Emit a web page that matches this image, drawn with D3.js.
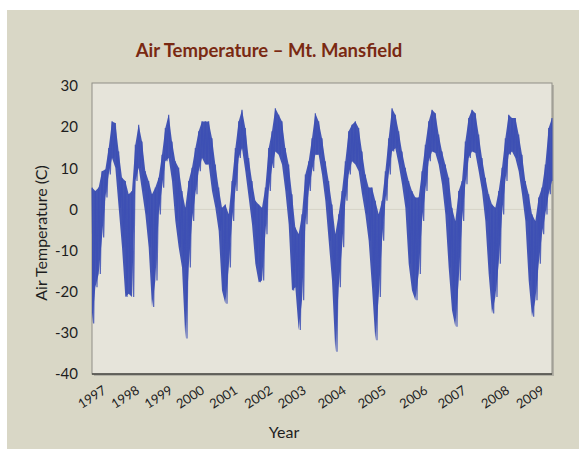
<!DOCTYPE html>
<html>
<head>
<meta charset="utf-8">
<script src="https://cdn.jsdelivr.net/npm/d3@7"></script>
<style>
  body { margin: 0; background: #fff; }
  svg { display: block; }
</style>
</head>
<body>
<svg width="579" height="449"></svg>
<script>
// envelope of the daily record (deg C), one sample every ~3 px
var tempHigh = [5.3, 4.5, 5.3, 9.3, 9.7, 14.9, 21.4, 21.0, 14.1, 7.7,
  6.9, 3.7, 4.5, 15.7, 20.6, 16.5, 9.3, 6.9, 3.7, 5.3,
  7.7, 13.3, 19.8, 23.0, 16.5, 11.7, 10.1, 4.5, 0.4, 6.9,
  10.1, 14.9, 19.0, 21.4, 21.4, 21.4, 17.3, 10.9, 5.3, 0.4,
  1.2, -1.2, 6.9, 14.9, 21.4, 24.2, 19.8, 12.5, 6.9, 2.1,
  1.2, 0.4, 5.3, 14.9, 19.0, 24.6, 23.0, 21.4, 14.9, 10.9,
  3.7, -4.4, -6.0, -1.2, 8.5, 11.7, 17.3, 23.4, 21.4,
  17.3, 11.7, 6.9, 1.2, -6.0, -1.2, 4.5, 11.7, 19.0, 20.6,
  21.4, 19.8, 14.1, 8.5, 5.3, 5.3, 2.1, -1.2, 2.1, 9.3,
  17.3, 24.6, 23.0, 19.0, 14.1, 10.1, 6.9, 4.5, 2.9, 2.9,
  9.3, 15.7, 21.4, 24.2, 23.4, 18.2, 14.1, 10.9, 7.7, 0.4,
  -2.8, 4.5, 6.9, 16.5, 22.2, 24.2, 23.4, 18.2, 12.5, 7.7,
  3.7, 1.2, 0.4, 4.5, 10.1, 17.3, 23.0, 22.2, 22.2, 18.2,
  13.3, 6.9, 3.7, -1.2, -2.8, 2.9, 5.3, 10.9, 19.8, 22.2];
var tempLow = [-27.7, -18.9, -15.7, -6.8, 2.9, 8.5, 12.5, 10.1, 0.4, -9.2,
  -21.3, -20.5, -21.3, 6.9, 10.1, 4.5, -1.2, -9.2, -23.7, -17.3,
  -1.2, 5.3, 11.7, 12.5, 6.9, -2.8, -9.2, -14.1, -31.4, -14.1,
  -2.8, 3.7, 9.3, 12.5, 10.9, 10.9, 4.5, 0.4, -5.2, -19.7,
  -22.9, -14.1, -2.8, 4.5, 12.5, 14.9, 9.3, 2.9, -3.6, -13.2,
  -17.7, -17.3, -6.0, 4.5, 10.1, 14.1, 13.3, 10.9, 4.5, -3.6,
  -19.7, -18.9, -29.3, -22.1, -3.6, 4.5, 9.3, 13.3, 13.3,
  8.5, 2.1, -7.6, -17.3, -34.6, -18.9, -9.2, 2.1, 8.5, 11.7,
  10.9, 9.3, 3.7, -1.2, -7.6, -18.9, -31.8, -21.3, -7.6, 2.1,
  8.5, 14.1, 14.9, 10.9, 6.1, 0.4, -13.2, -19.7, -22.1, -15.7,
  -2.8, 4.5, 11.7, 14.1, 13.7, 10.9, 6.1, -1.2, -14.1, -24.5,
  -28.5, -17.3, -2.8, 6.1, 12.5, 14.1, 13.7, 9.3, 4.5, -2.8,
  -15.7, -25.3, -21.3, -13.2, -1.2, 6.9, 13.3, 14.1, 12.5, 9.3,
  3.7, -2.8, -17.3, -26.1, -22.1, -13.2, -6.0, -1.2, 3.7, 6.9];

var yearLabels = ["1997", "1998", "1999", "2000", "2001", "2002", "2003",
  "2004", "2005", "2006", "2007", "2008", "2009"];
// where each year label sits, in sample units
var yearAt = [3, 13, 23, 32.5, 42.5, 53, 63, 75, 87, 99.5, 111, 124, 134.5];
var yTicks = [-40, -30, -20, -10, 0, 10, 20, 30];

var svg = d3.select("svg");
// note: "top" is taken by window.top, so use plot* names
var plotLeft = 92, plotRight = 552, plotTop = 83, plotBottom = 374;

// beige panel
svg.append("rect")
  .attr("x", 7).attr("y", 10)
  .attr("width", 579 - 7).attr("height", 449 - 10)
  .attr("fill", "#d9d7c6");

var x = d3.scaleLinear().domain([0, tempHigh.length - 1]).range([plotLeft, plotRight]);
var y = d3.scaleLinear().domain([-40, 30]).range([plotBottom, 86]);

// plot frame with a little shadow
svg.append("rect")
  .attr("x", plotLeft + 2).attr("y", plotTop + 2)
  .attr("width", plotRight - plotLeft).attr("height", plotBottom - plotTop)
  .attr("fill", "#b3b1a6");
svg.append("rect")
  .attr("x", plotLeft).attr("y", plotTop)
  .attr("width", plotRight - plotLeft).attr("height", plotBottom - plotTop)
  .attr("fill", "#e6e4da")
  .attr("stroke", "#8f8e85")
  .attr("stroke-width", 1);
svg.append("line")
  .attr("x1", plotLeft).attr("x2", plotRight)
  .attr("y1", plotBottom).attr("y2", plotBottom)
  .attr("stroke", "#4a4a45").attr("stroke-width", 1.5);

// faint zero line
svg.append("line")
  .attr("x1", plotLeft + 1).attr("x2", plotRight - 1)
  .attr("y1", y(0)).attr("y2", y(0))
  .attr("stroke", "#d6d3c6").attr("stroke-width", 1);

var samples = d3.range(tempHigh.length);

var area = d3.area()
  .x(function(d) { return x(d); })
  .y0(function(d) { return y(tempLow[d]); })
  .y1(function(d) { return y(tempHigh[d]); });

svg.append("path")
  .datum(samples)
  .attr("d", area)
  .attr("fill", "#3a4db2")
  .attr("fill-opacity", 0.95);

// jagged trace between the high and low of each sample
var zig = [];
samples.forEach(function(k) {
  zig.push([k, tempHigh[k]]);
  zig.push([k + 0.5, tempLow[k]]);
});
var line = d3.line()
  .x(function(d) { return x(Math.min(d[0], tempHigh.length - 1)); })
  .y(function(d) { return y(d[1]); });

svg.append("path")
  .datum(zig)
  .attr("d", line)
  .attr("fill", "none")
  .attr("stroke", "#3c4fb4")
  .attr("stroke-width", 1.2)
  .attr("stroke-opacity", 0.85);

var font = "Lato, 'Open Sans', sans-serif";

// y tick labels
svg.append("g").selectAll("text")
  .data(yTicks)
  .enter().append("text")
  .attr("x", 78)
  .attr("y", function(d) { return y(d); })
  .attr("dy", "0.35em")
  .attr("text-anchor", "end")
  .attr("font-family", font)
  .attr("font-size", 15)
  .attr("fill", "#1e1e1e")
  .text(function(d) { return d; });

// x labels, slanted
svg.append("g").selectAll("text")
  .data(yearLabels)
  .enter().append("text")
  .attr("transform", function(d, i) {
    return "translate(" + x(yearAt[i]) + ",385) rotate(-33)";
  })
  .attr("text-anchor", "end")
  .attr("dy", "0.7em")
  .attr("font-family", font)
  .attr("font-size", 13)
  .attr("fill", "#1e1e1e")
  .text(function(d) { return d; });

// title and axis names
svg.append("text")
  .attr("x", 269).attr("y", 57)
  .attr("text-anchor", "middle")
  .attr("font-family", font)
  .attr("font-weight", "bold")
  .attr("font-size", 18.5)
  .attr("fill", "#7a2912")
  .text("Air Temperature – Mt. Mansfield");

svg.append("text")
  .attr("transform", "translate(47,233) rotate(-90)")
  .attr("text-anchor", "middle")
  .attr("font-family", font)
  .attr("font-size", 16)
  .attr("fill", "#1e1e1e")
  .text("Air Temperature (C)");

svg.append("text")
  .attr("x", 284).attr("y", 438)
  .attr("text-anchor", "middle")
  .attr("font-family", font)
  .attr("font-size", 16)
  .attr("fill", "#1e1e1e")
  .text("Year");
</script>
</body>
</html>
